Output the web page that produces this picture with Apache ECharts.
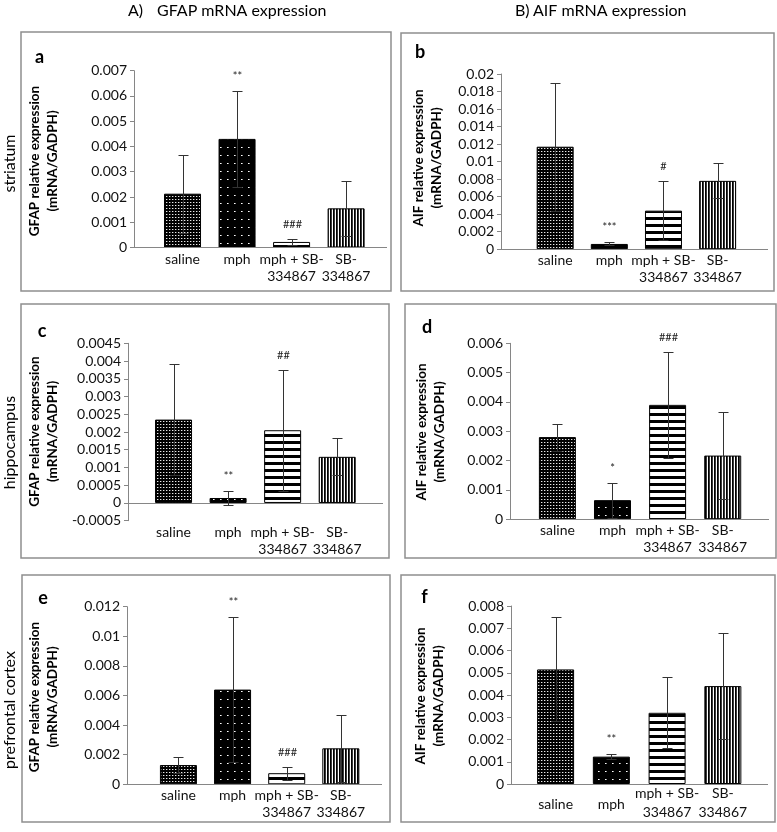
<!DOCTYPE html>
<html><head><meta charset="utf-8">
<script src="https://cdn.jsdelivr.net/npm/echarts@6/dist/echarts.min.js"></script>
<style>html,body{margin:0;padding:0;background:#fff}#c{width:777px;height:832px}</style>
</head><body><div id="c"></div>
<script>
// ---------------- data ----------------
const categories = ['saline', 'mph', 'mph + SB-\n334867', 'SB-\n334867'];

// a: GFAP, striatum
const gfapStriatumMean = [0.00213, 0.0043, 0.00022, 0.00155];
const gfapStriatumSD   = [0.00155, 0.0019, 0.00012, 0.0011];
const gfapStriatumSig  = ['', '**', '###', ''];
// b: AIF, striatum
const aifStriatumMean = [0.0117, 0.0006, 0.0044, 0.0078];
const aifStriatumSD   = [0.0073, 0.00017, 0.0034, 0.002];
const aifStriatumSig  = ['', '***', '#', ''];
// c: GFAP, hippocampus
const gfapHippoMean = [0.00235, 0.00014, 0.00205, 0.0013];
const gfapHippoSD   = [0.00156, 0.0002, 0.0017, 0.00052];
const gfapHippoSig  = ['', '**', '##', ''];
// d: AIF, hippocampus
const aifHippoMean = [0.0028, 0.00065, 0.0039, 0.00217];
const aifHippoSD   = [0.00046, 0.0006, 0.0018, 0.00147];
const aifHippoSig  = ['', '*', '###', ''];
// e: GFAP, prefrontal cortex
const gfapPfcMean = [0.0013, 0.0064, 0.00075, 0.00243];
const gfapPfcSD   = [0.00057, 0.0049, 0.00045, 0.00225];
const gfapPfcSig  = ['', '**', '###', ''];
// f: AIF, prefrontal cortex
const aifPfcMean = [0.00515, 0.00123, 0.0032, 0.0044];
const aifPfcSD   = [0.00234, 0.0001, 0.0016, 0.00237];
const aifPfcSig  = ['', '**', '', ''];

// y-axis ranges [min, max, step]
const gfapStriatumAxis = [0, 0.007, 0.001];
const aifStriatumAxis  = [0, 0.02, 0.002];
const gfapHippoAxis    = [-0.0005, 0.0045, 0.0005];
const aifHippoAxis     = [0, 0.006, 0.001];
const gfapPfcAxis      = [0, 0.012, 0.002];
const aifPfcAxis       = [0, 0.008, 0.001];

const gfapTitle = 'GFAP relative expression\n(mRNA/GADPH)';
const aifTitle  = 'AIF relative expression\n(mRNA/GADPH)';
const columnHeads = [['A)', 'GFAP mRNA expression'], ['B)', 'AIF mRNA expression']];
const regionNames = ['striatum', 'hippocampus', 'prefrontal cortex'];
const panelLetters = ['a', 'b', 'c', 'd', 'e', 'f'];

// ---------------- layout / style ----------------
const FONT = 'Lato';
const AX = '#868686';
const EB = '#333333';
const BOXC = '#8f8f8f';
const TXT = '#111';

const layout = [
  {left:134, xEnd:387, top:70.7, bottom:247.5, xMin:0.11, xMax:4.75, title:[44,161],   letter:[39.5,57.5], box:[21,32,370,259]},
  {left:501, xEnd:768, top:74,   bottom:249.2, xMin:0.0,  xMax:4.93, title:[427.5,158], letter:[420,52],   box:[401,33,373,258]},
  {left:128, xEnd:383, top:343.3,bottom:520.7, xMin:0.165,xMax:4.84, title:[44,431.5], letter:[42,331],   box:[21,304,368,254]},
  {left:510, xEnd:769, top:343.3,bottom:519.2, xMin:0.14, xMax:4.84, title:[430.5,432], letter:[427,327],  box:[405,304,371,254]},
  {left:127, xEnd:382, top:606.7,bottom:784.3, xMin:0.05, xMax:4.76, title:[44,697],   letter:[43,598],   box:[22,575,368,247]},
  {left:511, xEnd:768, top:606,  bottom:784,   xMin:0.2,  xMax:4.81, title:[430,696],  letter:[424.5,597.5], box:[401,575,374,247], centered:true}
];

const panels = [
  {mean:gfapStriatumMean, sd:gfapStriatumSD, sig:gfapStriatumSig, axis:gfapStriatumAxis, name:gfapTitle},
  {mean:aifStriatumMean,  sd:aifStriatumSD,  sig:aifStriatumSig,  axis:aifStriatumAxis,  name:aifTitle},
  {mean:gfapHippoMean,    sd:gfapHippoSD,    sig:gfapHippoSig,    axis:gfapHippoAxis,    name:gfapTitle},
  {mean:aifHippoMean,     sd:aifHippoSD,     sig:aifHippoSig,     axis:aifHippoAxis,     name:aifTitle},
  {mean:gfapPfcMean,      sd:gfapPfcSD,      sig:gfapPfcSig,      axis:gfapPfcAxis,      name:gfapTitle},
  {mean:aifPfcMean,       sd:aifPfcSD,       sig:aifPfcSig,       axis:aifPfcAxis,       name:aifTitle}
];

// ---------------- patterns ----------------
function makePattern(w, h, draw) {
  const c = document.createElement('canvas');
  c.width = w; c.height = h;
  const g = c.getContext('2d');
  draw(g, w, h);
  return {image: c, repeat: 'repeat'};
}
const patSaline = makePattern(3, 3, (g) => {
  g.fillStyle = '#000'; g.fillRect(0, 0, 3, 3);
  g.fillStyle = '#e8e8e8'; g.fillRect(1, 1, 1, 1);
  g.fillStyle = '#555'; g.fillRect(2, 1, 1, 1);
});
const patMph = makePattern(7, 8, (g) => {
  g.fillStyle = '#000'; g.fillRect(0, 0, 7, 8);
  g.fillStyle = '#fff'; g.fillRect(3, 3, 1, 1);
  g.fillStyle = '#999'; g.fillRect(4, 3, 1, 1);
});
const patHoriz = makePattern(4, 7, (g) => {
  g.fillStyle = '#fff'; g.fillRect(0, 0, 4, 7);
  g.fillStyle = '#000'; g.fillRect(0, 0, 4, 3);
});
const patVert = makePattern(3, 4, (g) => {
  g.fillStyle = '#fff'; g.fillRect(0, 0, 3, 4);
  g.fillStyle = '#000'; g.fillRect(0, 0, 1, 4);
  g.fillStyle = '#3a3a3a'; g.fillRect(1, 0, 1, 4);
});
const patterns = [patSaline, patMph, patHoriz, patVert];

function fmt(v) { return String(Math.round(v * 1e7) / 1e7); }

// ---------------- build option ----------------
const grids = [], xAxes = [], yAxes = [], series = [], graphics = [];

panels.forEach((p, i) => {
  const L = layout[i];
  grids.push({left: L.left, top: L.top, width: L.xEnd - L.left, height: L.bottom - L.top, outerBoundsMode: 'none', containLabel: false});
  const labelCfg = {
    // blank guard labels at both axis ends keep ECharts' min/max overlap check from hiding category labels
    customValues: [L.xMin, 1, 2, 3, 4, L.xMax],
    showMinLabel: true, showMaxLabel: true, hideOverlap: false,
    fontFamily: FONT, fontSize: 14, color: TXT,
    margin: L.centered ? 0 : 3,
    lineHeight: L.centered ? 19 : 17,
    formatter: (v) => {
      if (Math.abs(v - Math.round(v)) > 1e-6) return ' ';
      const t = categories[Math.round(v) - 1];
      if (t === undefined) return ' ';
      if (L.centered && t.indexOf('\n') < 0) return '{s|' + t + '}';
      return t;
    },
    rich: {s: {fontFamily: FONT, fontSize: 14, color: TXT, lineHeight: 40}}
  };
  xAxes.push({
    gridIndex: i, type: 'value', min: L.xMin, max: L.xMax,
    axisLine: {show: false, onZero: false}, axisTick: {show: false}, splitLine: {show: false},
    axisLabel: labelCfg
  });
  yAxes.push({
    gridIndex: i, type: 'value', min: p.axis[0], max: p.axis[1], interval: p.axis[2],
    axisLine: {show: true, lineStyle: {color: AX, width: 1}},
    axisTick: {show: true, length: 4, lineStyle: {color: AX}},
    splitLine: {show: false},
    axisLabel: {fontFamily: FONT, fontSize: 14, color: TXT, margin: 7, formatter: fmt, showMinLabel: true, showMaxLabel: true}
  });
  series.push({
    type: 'bar', xAxisIndex: i, yAxisIndex: i, barWidth: 37, animation: false,
    itemStyle: {borderColor: '#000', borderWidth: 1},
    data: p.mean.map((v, k) => ({value: [k + 1, v], itemStyle: {color: patterns[k]}})),
    markLine: {silent: true, symbol: 'none', label: {show: false}, animation: false,
      lineStyle: {color: AX, type: 'solid', width: 1}, data: [{yAxis: 0}]}
  });
  series.push({
    type: 'custom', xAxisIndex: i, yAxisIndex: i, z: 10, animation: false, silent: true,
    data: p.mean.map((v, k) => [k + 1, v, p.sd[k], k]),
    renderItem: (params, api) => {
      const x = api.value(0), m = api.value(1), s = api.value(2), k = api.value(3);
      const top = api.coord([x, m + s]);
      const bot = api.coord([x, m - s]);
      const cx = Math.round(top[0]) + 0.5;
      const ty = Math.round(top[1]) + 0.5, by = Math.round(bot[1]) + 0.5;
      const st = {stroke: EB, lineWidth: 1};
      const ch = [
        {type: 'line', shape: {x1: cx, y1: ty, x2: cx, y2: by}, style: st},
        {type: 'line', shape: {x1: cx - 5, y1: ty, x2: cx + 5, y2: ty}, style: st},
        {type: 'line', shape: {x1: cx - 5, y1: by, x2: cx + 5, y2: by}, style: st}
      ];
      const lab = p.sig[k];
      if (lab) ch.push({type: 'text', style: {text: lab, x: cx, y: ty - 15, align: 'center', verticalAlign: 'middle',
        fontFamily: FONT, fontSize: 11, fill: '#222'}});
      return {type: 'group', children: ch};
    }
  });
  // frame, letter, y-title
  graphics.push({type: 'rect', shape: {x: L.box[0], y: L.box[1], width: L.box[2], height: L.box[3]},
    style: {fill: 'none', stroke: BOXC, lineWidth: 1.5}, z: 0, silent: true});
  graphics.push({type: 'text', x: L.letter[0], y: L.letter[1], style: {text: panelLetters[i], align: 'center', verticalAlign: 'middle',
    fontFamily: FONT, fontSize: 18, fontWeight: 'bold', fill: '#000'}});
  graphics.push({type: 'text', x: L.title[0], y: L.title[1], rotation: Math.PI / 2,
    style: {text: p.name, align: 'center', verticalAlign: 'middle', fontFamily: FONT, fontSize: 13.5, fontWeight: 'bold',
      lineHeight: 18, fill: '#000'}});
});

// column headers
const headPos = [[128, 157, 11], [515, 533, 11]];
columnHeads.forEach((h, j) => {
  graphics.push({type: 'text', x: headPos[j][0], y: headPos[j][2], style: {text: h[0], align: 'left', verticalAlign: 'middle', fontFamily: FONT, fontSize: 16, fill: '#000'}});
  graphics.push({type: 'text', x: headPos[j][1], y: headPos[j][2], style: {text: h[1], align: 'left', verticalAlign: 'middle', fontFamily: FONT, fontSize: 16, fill: '#000'}});
});
// region labels
const regionY = [163.5, 442.5, 710];
regionNames.forEach((r, j) => {
  graphics.push({type: 'text', x: 10, y: regionY[j], rotation: Math.PI / 2,
    style: {text: r, align: 'center', verticalAlign: 'middle', fontFamily: FONT, fontSize: 16, fill: '#000'}});
});

const chart = echarts.init(document.getElementById('c'), null, {renderer: 'canvas'});
chart.setOption({
  animation: false,
  backgroundColor: '#fff',
  grid: grids, xAxis: xAxes, yAxis: yAxes, series: series,
  graphic: graphics
});
</script>
</body></html>
